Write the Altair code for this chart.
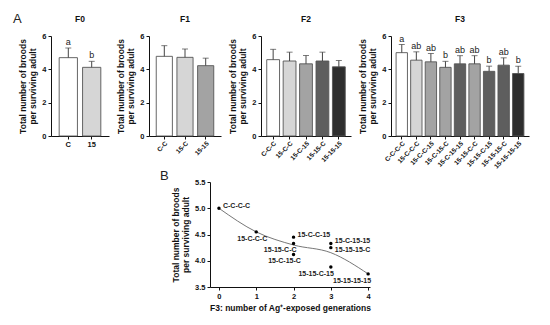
import altair as alt
import pandas as pd

# ---------------- data ----------------
f0_labels = ["C", "15"]
f0_means = [4.70, 4.12]
f0_sd_top = [5.28, 4.48]
f0_letters = ["a", "b"]

f1_labels = ["C-C", "15-C", "15-15"]
f1_means = [4.78, 4.72, 4.22]
f1_sd_top = [5.42, 5.22, 4.67]

f2_labels = ["C-C-C", "15-C-C", "15-C-15", "15-15-C", "15-15-15"]
f2_means = [4.58, 4.50, 4.33, 4.50, 4.15]
f2_sd_top = [5.20, 5.03, 4.83, 5.03, 4.53]

f3_labels = ["C-C-C-C", "15-C-C-C", "15-C-C-15", "15-C-15-C", "15-C-15-15",
             "15-15-C-C", "15-15-C-15", "15-15-15-C", "15-15-15-15"]
f3_means = [5.00, 4.55, 4.45, 4.12, 4.33, 4.33, 3.88, 4.25, 3.75]
f3_sd_top = [5.49, 5.05, 4.95, 4.48, 4.82, 4.82, 4.19, 4.69, 4.19]
f3_letters = ["a", "ab", "ab", "b", "ab", "ab", "b", "ab", "b"]

y_ticks_a = [0, 2, 4, 6]
y_ticks_b = [3.5, 4.0, 4.5, 5.0, 5.5]
x_ticks_b = [0, 1, 2, 3, 4]

y_title = ["Total number of broods", "per surviving adult"]
b_x_title = "F3: number of Ag\u207a-exposed generations"

# fill shade level of each bar (style)
f0_shade = [0, 1]
f1_shade = [0, 1, 2]
f2_shade = [0, 1, 2, 3, 4]
f3_shade = [0, 1, 2, 2, 3, 2, 3, 3, 4]

GRAYS = ["#ffffff", "#d6d6d6", "#a3a3a3", "#5e5e5e", "#2e2e2e"]
FONT = "Liberation Sans"


def exposures(lbl):
    return lbl.split("-").count("15")


def bar_panel(title, labels, means, tops, letters, shade, width, angle, add_A=False):
    df = pd.DataFrame({
        "label": labels,
        "mean": means,
        "top": tops,
        "letter": letters if letters else [""] * len(labels),
        "shade": shade,
    })
    base = alt.Chart(df)
    x = alt.X("label:N", sort=labels, title=None,
              scale=alt.Scale(paddingInner=0.22, paddingOuter=0.35),
              axis=alt.Axis(labelAngle=angle, labelFontSize=6.5 if angle else 7.5,
                            labelPadding=1, tickSize=3))
    y_axis = alt.Axis(values=y_ticks_a, tickSize=3, labelOverlap=False, labelFontSize=7.5,
                      title=y_title)
    y_scale = alt.Scale(domain=[0, 6], nice=False)

    def Y(field):
        return alt.Y(field, scale=y_scale, axis=y_axis, title=y_title)

    bars = base.mark_bar(stroke="#555555", strokeWidth=0.9).encode(
        x=x,
        y=Y("mean:Q"),
        color=alt.Color("shade:O", scale=alt.Scale(domain=[0, 1, 2, 3, 4], range=GRAYS),
                        legend=None),
    )
    err = base.mark_rule(color="#444444", strokeWidth=1).encode(
        x=x, y=Y("mean:Q"), y2="top:Q")
    cap = base.mark_tick(color="#444444", thickness=1, size=6).encode(
        x=x, y=Y("top:Q"))
    layers = [bars, err, cap]
    if letters:
        txt = base.mark_text(dy=-6, fontSize=9, font=FONT, color="#222").encode(
            x=x, y=Y("top:Q"), text="letter:N")
        layers.append(txt)
    ttl = alt.Chart(pd.DataFrame({"t": [title]})).mark_text(
        fontSize=8.5, font=FONT, fontWeight="bold", align="center", baseline="middle",
        color="#111"
    ).encode(text="t:N", x=alt.value(width / 2), y=alt.value(-17))
    layers.append(ttl)
    if add_A:
        a_lbl = alt.Chart(pd.DataFrame({"t": ["A"]})).mark_text(
            fontSize=13, font=FONT, align="left", baseline="middle", color="#222"
        ).encode(text="t:N", x=alt.value(-38), y=alt.value(-17))
        layers.append(a_lbl)
    return alt.layer(*layers).properties(width=width, height=100)


p0 = bar_panel("F0", f0_labels, f0_means, f0_sd_top, f0_letters, f0_shade, 58, 0, add_A=True)
p1 = bar_panel("F1", f1_labels, f1_means, f1_sd_top, None, f1_shade, 72, -45)
p2 = bar_panel("F2", f2_labels, f2_means, f2_sd_top, None, f2_shade, 90, -45)
p3 = bar_panel("F3", f3_labels, f3_means, f3_sd_top, f3_letters, f3_shade, 138, -45)

top = alt.hconcat(p0, p1, p2, p3, spacing=7)

# ---------------- panel B ----------------
gen = [exposures(l) for l in f3_labels]
dfb = pd.DataFrame({"label": f3_labels, "gen": gen, "mean": f3_means})
bb = alt.Chart(dfb)
xb_scale = alt.Scale(domain=[-0.24, 4.05], nice=False, zero=False)
xb_axis = alt.Axis(values=x_ticks_b, format="d", tickSize=3, labelOverlap=False,
                   title=b_x_title)
yb_scale = alt.Scale(domain=[3.5, 5.5], nice=False, zero=False)
yb_axis = alt.Axis(values=y_ticks_b, format=".1f", tickSize=3, labelOverlap=False,
                   labelFontSize=7.5, title=y_title)

xb = alt.X("gen:Q", scale=xb_scale, axis=xb_axis, title=b_x_title)
yb = alt.Y("mean:Q", scale=yb_scale, axis=yb_axis, title=y_title)

line = bb.mark_line(color="#777777", strokeWidth=1, interpolate="monotone").encode(
    x=xb, y=alt.Y("mean(mean):Q", scale=yb_scale, axis=yb_axis, title=y_title))
pts = bb.mark_circle(color="black", size=12, opacity=1).encode(x=xb, y=yb)


def lab(names, align, dx, dy):
    return bb.transform_filter(alt.FieldOneOfPredicate(field="label", oneOf=names)).mark_text(
        align=align, dx=dx, dy=dy, fontSize=7, font=FONT, fontWeight="bold", color="#222"
    ).encode(x=xb, y=yb, text="label:N")


labels_b = [
    lab(["C-C-C-C", "15-C-C-15", "15-C-15-15"], "left", 4, -2),
    lab(["15-15-15-C"], "left", 4, 2),
    lab(["15-15-C-C", "15-15-C-15", "15-15-15-15"], "right", 3, 7),
    lab(["15-C-C-C"], "center", -4, 7),
    lab(["15-C-15-C"], "center", -9, 7),
]
b_lbl = alt.Chart(pd.DataFrame({"t": ["B"]})).mark_text(
    fontSize=13, font=FONT, align="left", baseline="middle", color="#222"
).encode(text="t:N", x=alt.value(-50), y=alt.value(-6))

pb = alt.layer(line, pts, *labels_b, b_lbl).properties(width=160, height=105)

spacer = alt.Chart(pd.DataFrame({"a": [0]})).mark_point(opacity=0).encode(
    x=alt.value(0), y=alt.value(0)).properties(width=109, height=10)

bottom = alt.hconcat(spacer, pb, spacing=0)

chart = alt.vconcat(top, bottom, spacing=0).configure_view(stroke=None).configure_axis(
    grid=False, domainColor="#111", tickColor="#111", labelColor="#111",
    labelFont=FONT, labelFontWeight="bold", labelFontSize=7.5,
    titleFont=FONT, titleFontWeight="bold", titleFontSize=8.5, titleColor="#111",
    titlePadding=4,
)

chart.save("out.html", embed_options={"renderer": "svg", "actions": False})
